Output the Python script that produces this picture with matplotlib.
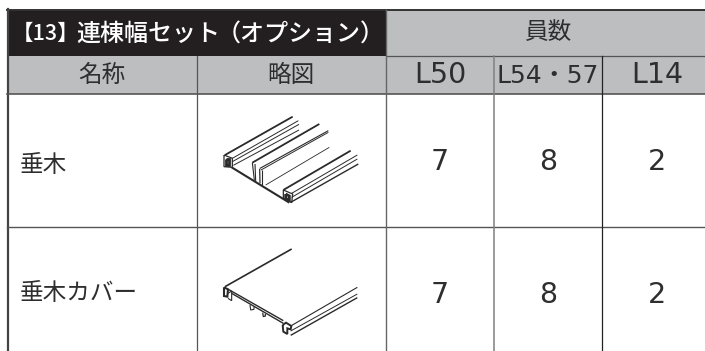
import matplotlib.pyplot as plt
from matplotlib.patches import Rectangle

plt.rcParams['font.family'] = ['Noto Sans CJK JP', 'DejaVu Sans']

title_parts = ["【13】", "連棟幅セット", "（オプション）"]
group_header = "員数"
col_names = ["名称", "略図"]
size_names = ["L50", "L54・57", "L14"]
row_names = ["垂木", "垂木カバー"]
L50 = [7, 7]
L54_57 = [8, 8]
L14 = [2, 2]

BLACK = "#231f20"
GRAY = "#bcbec0"
LINE = "#555555"
TEXT = "#2e2e2e"

# table layout in pixels
col_x = [7, 197, 386, 494, 602, 705]
head_y = [10, 55.5, 94]

# line art, traced at 3x: (points, width)
rafter = [
    ([(75, 195), (278, 80)], 1.3), ([(97, 205), (295, 92)], 0.7),
    ([(97, 215), (297, 103)], 0.7), ([(100, 226), (297, 120)], 0.7),
    ([(157, 218), (358, 102)], 1.3), ([(180, 235), (385, 122)], 0.8),
    ([(183, 240), (385, 127)], 0.7), ([(197, 285), (388, 172)], 0.6),
    ([(250, 300), (452, 182)], 1.3), ([(275, 310), (472, 195)], 0.7),
    ([(275, 322), (472, 207)], 0.7), ([(272, 337), (475, 222)], 1.0),
    ([(95, 232), (268, 338)], 1.5),
    ([(157, 218), (163, 270)], 0.8), ([(165, 222), (167, 273)], 0.8),
    ([(179, 236), (180, 280)], 0.9), ([(187, 240), (187, 285)], 0.8),
    ([(72, 195), (72, 230), (97, 232), (97, 205), (72, 195)], 0.9),
    ([(78, 208), (88, 208), (88, 225), (78, 225), (78, 208)], 2.0),
    ([(250, 300), (250, 325), (275, 338), (278, 312), (250, 300)], 0.9),
    ([(257, 312), (268, 318), (268, 330), (257, 325), (257, 312)], 2.0),
]
cover = [
    ([(75, 170), (275, 57)], 1.2),
    ([(85, 178), (250, 272)], 1.0), ([(95, 190), (250, 280)], 1.0),
    ([(272, 288), (472, 172)], 0.8), ([(272, 303), (472, 192)], 0.7),
    ([(272, 316), (472, 203)], 1.0),
    ([(72, 172), (72, 198), (82, 200), (84, 178), (72, 172)], 1.5),
    ([(84, 190), (95, 183), (95, 212), (84, 205)], 0.8),
    ([(150, 225), (152, 240), (162, 238), (162, 230)], 0.8),
    ([(188, 248), (190, 260), (196, 258), (196, 252)], 0.9),
    ([(248, 285), (258, 278), (274, 288), (272, 298), (262, 295), (262, 312), (250, 305), (248, 285)], 1.4),
]

fig, ax = plt.subplots(figsize=(7.05, 3.51), dpi=100)
fig.subplots_adjust(0, 0, 1, 1)
ax.set_xlim(0, 705)
ax.set_ylim(351, 0)
ax.axis("off")

# header fills
ax.add_patch(Rectangle((col_x[2], head_y[0]), col_x[5] - col_x[2], head_y[2] - head_y[0], color=GRAY, lw=0))
ax.add_patch(Rectangle((col_x[0], head_y[1]), col_x[2] - col_x[0], head_y[2] - head_y[1], color=GRAY, lw=0))
ax.add_patch(Rectangle((col_x[0], head_y[0]), col_x[2] - col_x[0], head_y[1] - head_y[0], color=BLACK, lw=0))

# rules
ax.plot([col_x[0], 705], [9.5, 9.5], color="#333333", lw=1.4)
ax.plot([7.5, 7.5], [9, 351], color="#444444", lw=1.6)
ax.plot([col_x[2], 705], [55.5, 55.5], color=LINE, lw=0.9)
ax.plot([7, 705], [94, 94], color=LINE, lw=1.2)
ax.plot([7, 705], [227, 227], color=LINE, lw=1.0)
ax.plot([197, 197], [56, 351], color=LINE, lw=0.9)
ax.plot([386, 386], [10, 351], color="#666666", lw=1.0)
ax.plot([494, 494], [56, 351], color="#808080", lw=1.1)
ax.plot([602, 602], [56, 351], color="#222222", lw=0.9)

# header text
ax.text(12, 33.5, title_parts[0], color="white", fontsize=15.5, weight="medium", ha="left", va="center")
ax.text(76, 33.5, title_parts[1], color="white", fontsize=17.3, weight="medium", ha="left", va="center")
ax.text(217, 33.5, title_parts[2], color="white", fontsize=17.3, weight="medium", ha="left", va="center")
ax.text(548, 33, group_header, color=TEXT, fontsize=17, ha="center", va="center")
for name, cx in zip(col_names, [102, 291]):
    ax.text(cx, 75, name, color=TEXT, fontsize=17, ha="center", va="center")
for name, cx in zip(size_names, [440, 548, 657]):
    fs = 20.5 if name != "L54・57" else 18
    ax.text(cx, 83, name, color=TEXT, fontsize=fs, family=['DejaVu Sans', 'Noto Sans CJK JP'], ha="center", va="baseline")

# body rows
base_y = [170, 303]
name_y = [165, 293]
for i, name in enumerate(row_names):
    ax.text(20, name_y[i], name, color=TEXT, fontsize=17, ha="left", va="center")
    for cx, vals in zip([440, 548, 657], [L50, L54_57, L14]):
        ax.text(cx, base_y[i], str(vals[i]), color=TEXT, fontsize=20.5,
                family=['DejaVu Sans'], ha="center", va="baseline")

# line art
for art, (ox, oy) in zip([rafter, cover], [(200, 90), (200, 230)]):
    for pts, w in art:
        ax.plot([ox + p[0] / 3 for p in pts], [oy + p[1] / 3 for p in pts],
                color="#2a2a2a", lw=w, solid_capstyle="butt", solid_joinstyle="miter")

fig.savefig("out.png", dpi=100)
